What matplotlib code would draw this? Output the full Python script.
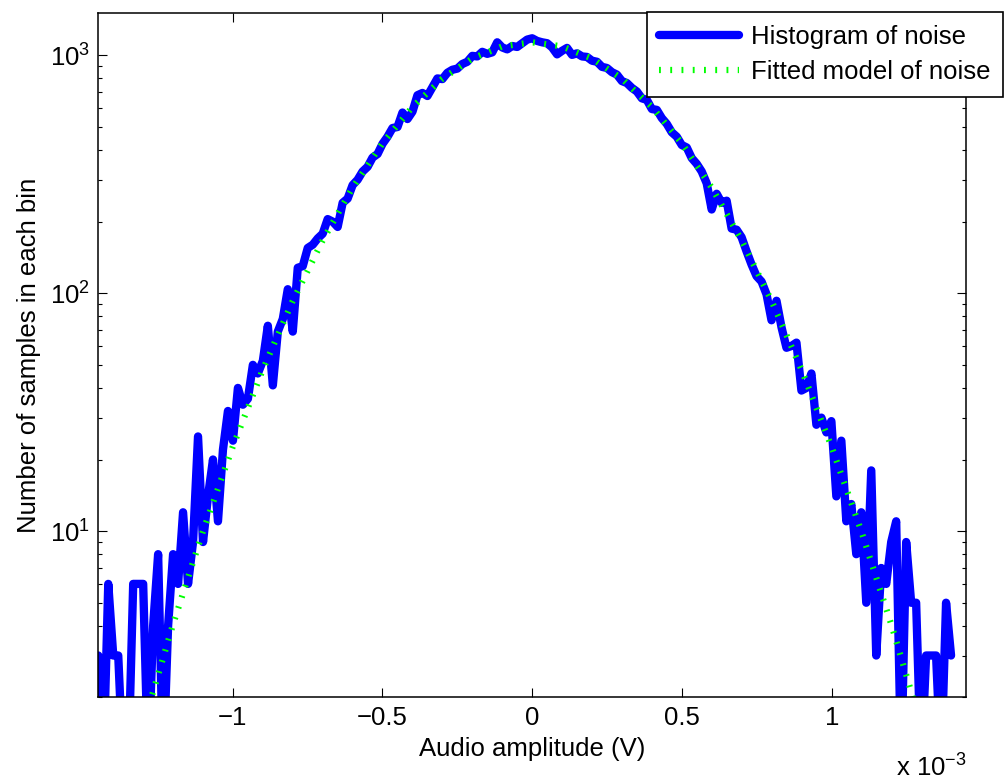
import numpy as np
import matplotlib.pyplot as plt
from matplotlib.ticker import FixedLocator, FixedFormatter, NullLocator, LogLocator

plt.rcParams['font.family'] = ['Liberation Sans', 'DejaVu Sans']

# =========================
# DATA
# =========================
x_min, x_max, n_bins = -1.448e-3, 1.448e-3, 175

# counts per bin, left to right (nan = empty bin, not drawn on log axis)
hist_counts = [
    3, 1, 6, 3, 3, 1, 1, 6, 6, 6,
    1, 4, 8, 1, 4, 8, 6, 12, 6, 9,
    25, 9, 14, 20, 11, 22, 32, 24, 40, 34,
    36, 50, 46, 52, 73, 41, 69, 78, 104, 69,
    128, 130, 155, 160, 170, 178, 205, 200, 190, 240,
    250, 285, 300, 325, 340, 372, 385, 425, 455, 495,
    500, 575, 540, 580, 680, 695, 675, 735, 800, 795,
    845, 870, 880, 920, 940, 995, 990, 1035, 1015, 1030,
    1135, 1080, 1060, 1095, 1085, 1125, 1165, 1180, 1150, 1135,
    1125, 1080, 1010, 1045, 1075, 1005, 1020, 990, 985, 950,
    940, 895, 885, 850, 830, 780, 765, 730, 705, 660,
    650, 595, 590, 545, 515, 475, 455, 420, 410, 370,
    350, 325, 290, 225, 262, 240, 245, 187, 185, 172,
    150, 132, 118, 112, 99, 77, 93, 72, 59, 60,
    62, 39, 40, 46, 28, 30, 26, 29, 14, 24,
    11, 13, 8, 12, 5, 18, 3, 7, 6, 9,
    11, 1, 9, 5, 5, 1, 3, 3, 3, 1,
    5, 3, np.nan, np.nan, np.nan,
]

# fitted model, sampled every 0.1 mV from -1.4 mV to 1.4 mV
fit_x_min, fit_x_max = -1.4e-3, 1.4e-3
fit_counts = [0.52, 1.50, 4.00, 9.87, 22.5, 47.4, 92.3, 166, 277, 426,
              606, 797, 970, 1091, 1135, 1091, 970, 797, 606, 426,
              277, 166, 92.3, 47.4, 22.5, 9.87, 4.00, 1.50, 0.52]

x_ticks = [-1e-3, -0.5e-3, 0, 0.5e-3, 1e-3]
x_tick_labels = ['\u22121', '\u22120.5', '0', '0.5', '1']

x_bins = np.linspace(x_min, x_max, n_bins)
x_fit = np.linspace(fit_x_min, fit_x_max, len(fit_counts))

# =========================
# PLOT
# =========================
fs = 18.5
fig = plt.figure(figsize=(10.05, 7.8), dpi=100)
ax = fig.add_axes([0.0978, 0.1059, 0.8634, 0.8768])

ax.semilogy(x_bins, hist_counts, color=(0, 0, 1), lw=6,
            solid_joinstyle='round', solid_capstyle='round',
            label='Histogram of noise')
ax.semilogy(x_fit, fit_counts, color=(0, 1, 0), lw=4.5,
            linestyle=(0, (0.3, 1.5)), dash_capstyle='butt',
            label='Fitted model of noise')

ax.set_xlim(x_min, x_max)
ax.set_ylim(2, 1500)

ax.xaxis.set_major_locator(FixedLocator(x_ticks))
ax.xaxis.set_major_formatter(FixedFormatter(x_tick_labels))
ax.xaxis.set_minor_locator(NullLocator())
ax.yaxis.set_major_locator(LogLocator(base=10, numticks=10))
ax.yaxis.set_minor_locator(LogLocator(base=10, subs=np.arange(2, 10), numticks=20))

ax.tick_params(which='both', direction='in', top=True, right=True,
               labelsize=fs)
ax.tick_params(which='major', length=6.5, width=0.8, pad=6)
ax.tick_params(which='minor', length=3.2, width=0.8)
for s in ax.spines.values():
    s.set_linewidth(1.1)

ax.set_xlabel('Audio amplitude (V)', fontsize=fs, labelpad=5)
ax.set_ylabel('Number of samples in each bin', fontsize=fs, labelpad=6)

fig.text(0.8915, 0.006, r'x 10$^{\mathdefault{-3}}$', fontsize=fs,
         ha='left', va='baseline')

leg = ax.legend(loc='upper right', bbox_to_anchor=(0.998, 0.985),
                bbox_transform=fig.transFigure, fontsize=fs,
                frameon=True, fancybox=False, edgecolor='black',
                framealpha=1, borderpad=0.5, labelspacing=0.45,
                handlelength=3.1, handletextpad=0.45, borderaxespad=0)
leg.get_frame().set_linewidth(1.2)

fig.savefig('out.png', dpi=100)
